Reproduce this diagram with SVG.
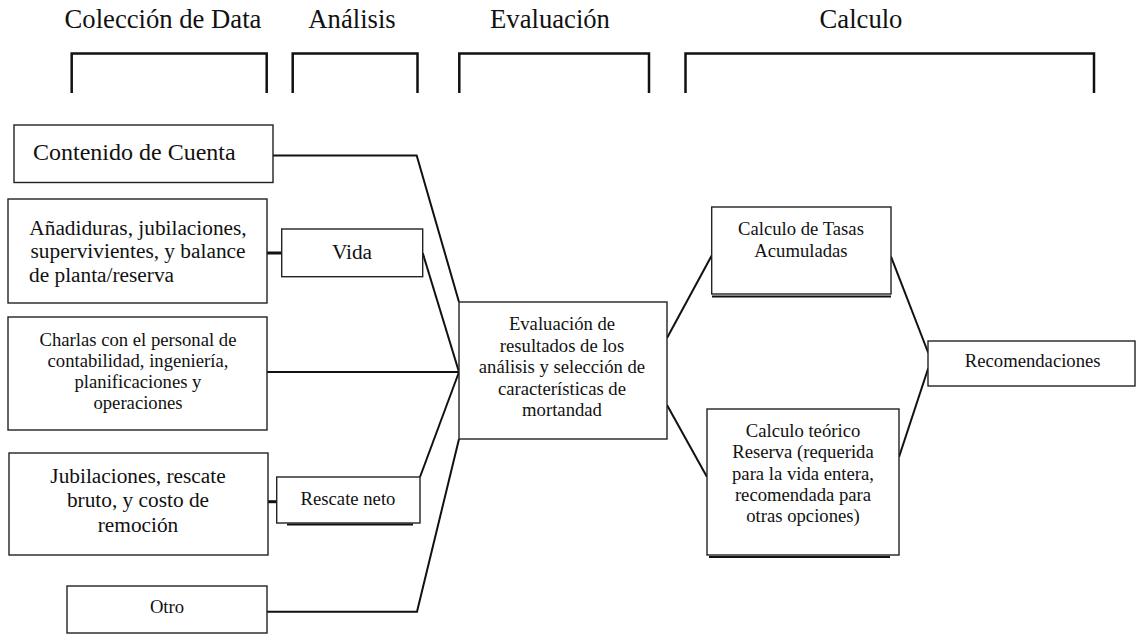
<svg xmlns="http://www.w3.org/2000/svg" width="1137" height="635" viewBox="0 0 1137 635">
<style>
text{font-family:"Liberation Serif","Times New Roman",serif;fill:#111;text-anchor:middle}
.h{font-size:26.67px}
.t24{font-size:24px}
.t21{font-size:21.33px}
.t19{font-size:18.67px}
.box{fill:#fff;stroke:#222;stroke-width:1.4}
.sh{stroke:#111;stroke-width:2;fill:none}
.br{fill:none;stroke:#111;stroke-width:2.5}
.c{fill:none;stroke:#111;stroke-width:2}
.cs{fill:none;stroke:#111;stroke-width:3}
</style>
<rect width="1137" height="635" fill="#fff"/>
<g id="headers">
<text class="h" x="163" y="28">Colección de Data</text>
<text class="h" x="352" y="28">Análisis</text>
<text class="h" x="550" y="28">Evaluación</text>
<text class="h" x="861" y="28">Calculo</text>
<path class="br" d="M71.7,93V53.5H266.7V93"/>
<path class="br" d="M292.7,93V53.5H417.5V93"/>
<path class="br" d="M459.3,93V53.5H649V93"/>
<path class="br" d="M685.5,93V53.5H1094V93"/>
</g>
<g id="connectors">
<polyline class="c" points="273,155.5 416.7,155.5 459,302"/>
<line class="cs" x1="267" y1="253" x2="282" y2="253"/>
<line class="c" x1="422.7" y1="253" x2="459" y2="372"/>
<line class="c" x1="267" y1="372" x2="459" y2="372"/>
<line class="cs" x1="268" y1="501.7" x2="277" y2="501.7"/>
<line class="c" x1="420" y1="477" x2="459" y2="372"/>
<polyline class="c" points="267,611.7 417,611.7 459,439"/>
<line class="c" x1="667" y1="338" x2="712" y2="255"/>
<line class="c" x1="667" y1="405" x2="707" y2="477"/>
<line class="c" x1="891" y1="256.7" x2="928.3" y2="353"/>
<line class="c" x1="899" y1="457" x2="928.3" y2="368"/>
</g>
<g id="contenido">
<rect class="box" x="14" y="125" width="259" height="57.5"/>
<text class="t24" x="33" y="160" style="text-anchor:start">Contenido de Cuenta</text>
</g>
<g id="anadiduras">
<rect class="box" x="8" y="199" width="259" height="104"/>
<text class="t21" x="138" y="234.5">Añadiduras, jubilaciones,</text>
<text class="t21" x="138" y="258">supervivientes, y balance</text>
<text class="t21" x="29" y="281.5" style="text-anchor:start">de planta/reserva</text>
</g>
<g id="vida">
<rect class="box" x="281.7" y="229" width="141" height="47.7"/>
<text class="t21" x="352" y="259">Vida</text>
</g>
<g id="charlas">
<rect class="box" x="8" y="317" width="259" height="113"/>
<text class="t19" x="138" y="345.7">Charlas con el personal de</text>
<text class="t19" x="138" y="366.7">contabilidad, ingeniería,</text>
<text class="t19" x="138" y="387.7">planificaciones y</text>
<text class="t19" x="138" y="408.5">operaciones</text>
</g>
<g id="jubilaciones">
<rect class="box" x="9" y="453" width="259" height="102"/>
<text class="t21" x="138" y="482.7">Jubilaciones, rescate</text>
<text class="t21" x="138" y="507">bruto, y costo de</text>
<text class="t21" x="138" y="531.7">remoción</text>
</g>
<g id="rescate">
<line class="sh" x1="287" y1="524.5" x2="413" y2="524.5"/>
<rect class="box" x="276.7" y="477" width="143.3" height="46"/>
<text class="t19" x="348" y="505">Rescate neto</text>
</g>
<g id="otro">
<rect class="box" x="67" y="586" width="200" height="47"/>
<text class="t19" x="167" y="613">Otro</text>
</g>
<g id="evaluacion">
<rect class="box" x="459" y="302" width="208" height="137"/>
<text class="t19" x="562" y="330">Evaluación de</text>
<text class="t19" x="562" y="351.5">resultados de los</text>
<text class="t19" x="562" y="373">análisis y selección de</text>
<text class="t19" x="562" y="394.5">características de</text>
<text class="t19" x="562" y="415.5">mortandad</text>
</g>
<g id="tasas">
<line class="sh" x1="712" y1="296.5" x2="891" y2="296.5"/>
<rect class="box" x="711.7" y="207" width="179.3" height="87"/>
<text class="t19" x="801" y="235">Calculo de Tasas</text>
<text class="t19" x="801" y="256.7">Acumuladas</text>
</g>
<g id="teorico">
<line class="sh" x1="709" y1="557" x2="890" y2="557"/>
<rect class="box" x="707" y="409" width="192" height="146"/>
<text class="t19" x="803" y="436.7">Calculo teórico</text>
<text class="t19" x="803" y="458">Reserva (requerida</text>
<text class="t19" x="803" y="479.5">para la vida entera,</text>
<text class="t19" x="803" y="500.7">recomendada para</text>
<text class="t19" x="803" y="521.7">otras opciones)</text>
</g>
<g id="recomendaciones">
<rect class="box" x="928" y="341" width="207" height="45"/>
<text class="t19" x="1032.7" y="366.7">Recomendaciones</text>
</g>
</svg>
